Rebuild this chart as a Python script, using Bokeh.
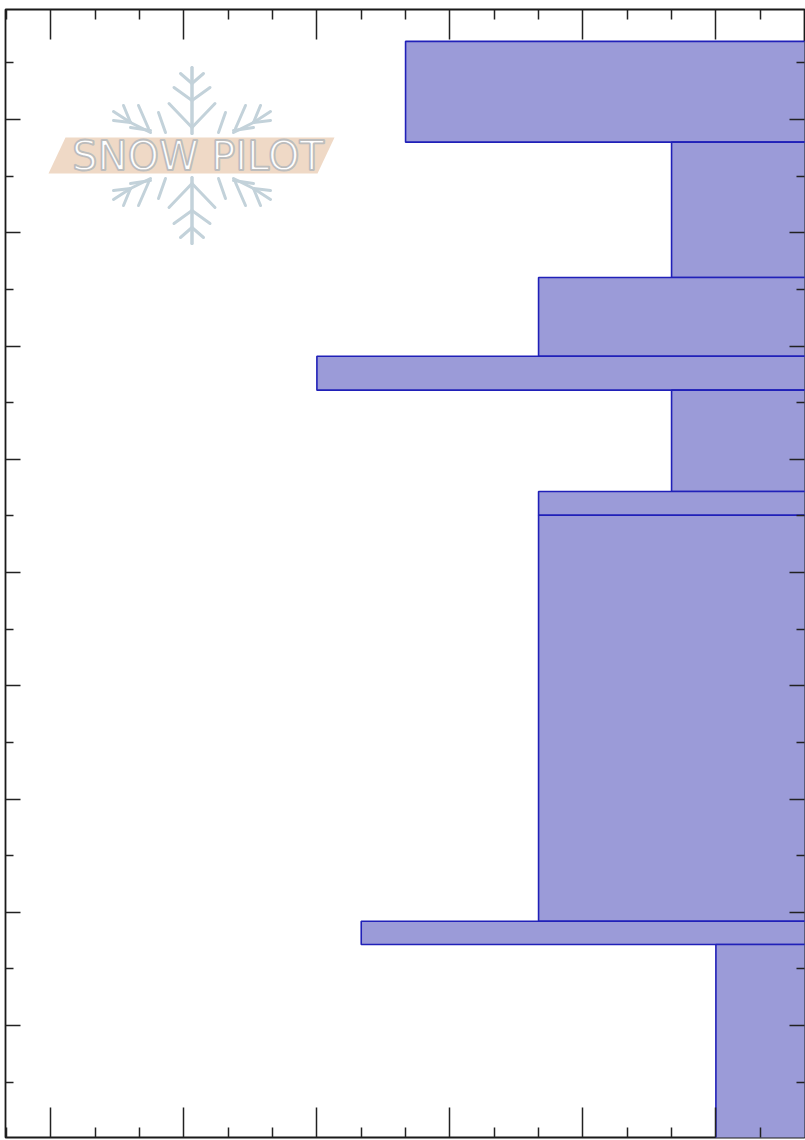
import numpy as np
from bokeh.core.properties import value
from bokeh.embed import file_html
from bokeh.models import FixedTicker, LinearAxis, Range1d
from bokeh.plotting import figure
from bokeh.resources import INLINE

# Layer boundaries, height above ground (cm)
layer_top = [96.9, 88.0, 76.05, 69.1, 66.1, 57.15, 55.05, 19.2, 17.15]
layer_bottom = [88.0, 76.05, 69.1, 66.1, 57.15, 55.05, 19.2, 17.15, 0]
# Hardness of each layer, in major tick units (drawn right to left)
layer_hardness = [7 / 3, 1 / 3, 4 / 3, 3, 1 / 3, 4 / 3, 4 / 3, 8 / 3, 0]
surface_side = [-1] * len(layer_top)

x_major = [0, 1, 2, 3, 4, 5]
x_minor = [-1 / 3, 1 / 3, 2 / 3, 4 / 3, 5 / 3, 7 / 3, 8 / 3, 10 / 3, 11 / 3, 13 / 3, 14 / 3, 16 / 3]
y_major = [10, 20, 30, 40, 50, 60, 70, 80, 90]
y_minor = [5, 15, 25, 35, 45, 55, 65, 75, 85, 95]

X0_PX, X_SCALE = 715.4, 133.0
Y0_PX, Y_SCALE = 1138.25, 11.325
FL, FR, FT, FB = 5, 804, 9, 1137


def dx(px):
    return (X0_PX - np.asarray(px, dtype=float)) / X_SCALE


def dy(py):
    return (Y0_PX - np.asarray(py, dtype=float)) / Y_SCALE


p = figure(
    width=805, height=1140, output_backend="svg", toolbar_location=None,
    x_range=Range1d(float(dx(FL)), float(dx(FR))),
    y_range=Range1d(float(dy(FB)), float(dy(FT))),
    x_axis_type=None, y_axis_type=None,
    min_border_left=FL, min_border_right=805 - FR,
    min_border_top=FT, min_border_bottom=1140 - FB,
)
p.grid.visible = False
p.outline_line_color = "#1a1a1a"
p.outline_line_width = 1.8
p.background_fill_color = "white"
p.border_fill_color = "white"

p.quad(left=layer_hardness, right=surface_side, top=layer_top, bottom=layer_bottom,
       fill_color="#9b9bd8", line_color="#2020b8", line_width=1.6)

# Logo: snowflake, one quadrant as offsets from its centre, mirrored four times
CX, CY = 191.5, 155.0
flake_quadrant = [
    [(0, 22), (0, 88)],
    [(0, 28), (23, 52)],
    [(0, 55), (18, 68)],
    [(0, 72), (11.5, 82)],
    [(41.5, 23), (61.5, 33)],
    [(61.5, 33), (78.5, 44)],
    [(61.5, 33), (78.5, 35)],
    [(61.5, 33), (68.5, 50)],
    [(43.5, 27), (53.5, 50)],
    [(41.5, 25), (61.5, 28)],
    [(26.5, 23), (33.5, 43)],
]
xs, ys = [], []
for sgx in (-1, 1):
    for sgy in (-1, 1):
        for seg in flake_quadrant:
            xs.append(dx([CX + sgx * u for u, _ in seg]).tolist())
            ys.append(dy([CY + sgy * v for _, v in seg]).tolist())
p.multi_line(xs, ys, line_color="#c3d2da", line_width=3, line_cap="round")

# Logo: band and lettering
band_x = dx([48, 65, 334, 317]).tolist()
band_y = dy([173, 137, 137, 173]).tolist()
p.patch(band_x, band_y, fill_color="#efd9c6", line_color=None)
p.text(x=[float(dx(197.5))], y=[float(dy(155))], text=["SNOW PILOT"],
       text_align="center", text_baseline="middle",
       text_font=value("DejaVu Sans"), text_font_size="40px",
       text_color="white", text_outline_color="#bdbdbd")


def ticks_axis(side, major, minor, major_len, minor_len):
    ax = LinearAxis(ticker=FixedTicker(ticks=major, minor_ticks=minor))
    ax.axis_line_color = None
    ax.major_tick_in = major_len
    ax.major_tick_out = 0
    ax.minor_tick_in = minor_len
    ax.minor_tick_out = 0
    ax.major_tick_line_color = "#222222"
    ax.minor_tick_line_color = "#222222"
    ax.major_tick_line_width = 1.5
    ax.minor_tick_line_width = 1.5
    ax.major_label_overrides = {t: "" for t in major}
    ax.major_label_standoff = 0
    p.add_layout(ax, side)


ticks_axis("above", x_major, x_minor, 30, 10)
ticks_axis("below", x_major, x_minor, 30, 10)
ticks_axis("left", y_major, y_minor, 15, 8)
ticks_axis("right", y_major, y_minor, 15, 8)

open("out.html", "w").write(file_html(p, INLINE))
